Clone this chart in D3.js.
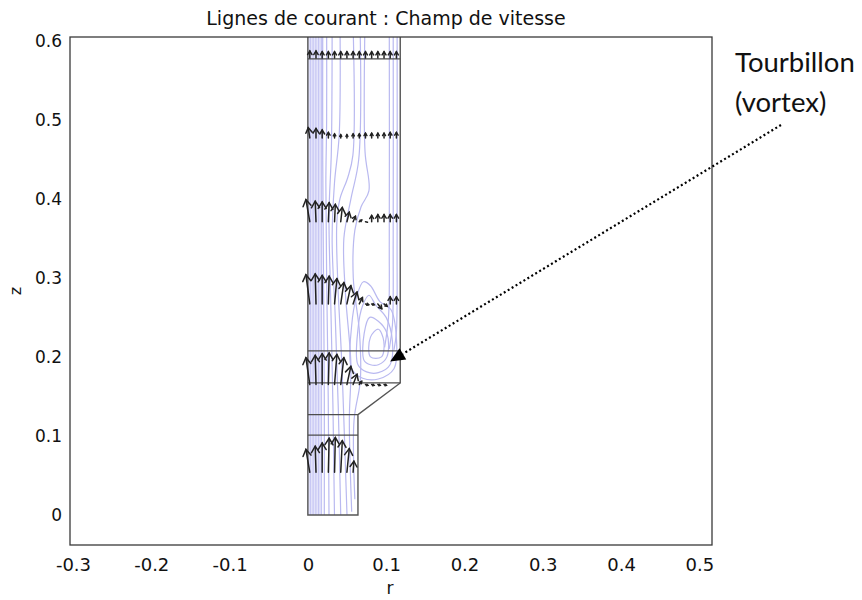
<!DOCTYPE html>
<html>
<head>
<meta charset="utf-8">
<script src="https://cdn.jsdelivr.net/npm/d3@7"></script>
<style>
  body { margin: 0; background: #fff; }
  svg { display: block; }
</style>
</head>
<body>
<svg id="chart" width="862" height="600"></svg>
<script>
// ---- axis ticks ----
const rTicks = [-0.3, -0.2, -0.1, 0, 0.1, 0.2, 0.3, 0.4, 0.5];
const rTickLabels = ["-0.3", "-0.2", "-0.1", "0", "0.1", "0.2", "0.3", "0.4", "0.5"];
const zTicks = [0, 0.1, 0.2, 0.3, 0.4, 0.5, 0.6];
const zTickLabels = ["0", "0.1", "0.2", "0.3", "0.4", "0.5", "0.6"];

// ---- geometry (r, z) of the axisymmetric tube ----
const wallOutline = [[0, 0.63], [0, 0], [0.064, 0], [0.064, 0.127], [0.118, 0.167], [0.118, 0.63]];
const interfaceLines = [
  [[0, 0.577], [0.118, 0.577]],
  [[0, 0.2075], [0.118, 0.2075]],
  [[0, 0.167], [0.118, 0.167]],
  [[0, 0.127], [0.064, 0.127]],
  [[0, 0.101], [0.064, 0.101]]
];

// ---- streamlines ----
const coreStreamR = [0.0015, 0.0035, 0.0055, 0.0075, 0.0095, 0.0115, 0.0135, 0.0155, 0.0175];
const jetStreamlines = [
  [[0.021, 0], [0.021, 0.15], [0.020, 0.30], [0.019, 0.45], [0.019, 0.63]],
  [[0.027, 0], [0.026, 0.15], [0.024, 0.30], [0.023, 0.42], [0.024, 0.50], [0.024, 0.63]],
  [[0.034, 0], [0.032, 0.14], [0.029, 0.28], [0.027, 0.38], [0.030, 0.46], [0.031, 0.63]],
  [[0.042, 0], [0.039, 0.13], [0.035, 0.25], [0.031, 0.35], [0.034, 0.42], [0.040, 0.48], [0.041, 0.63]],
  [[0.050, 0], [0.046, 0.12], [0.043, 0.20], [0.038, 0.30], [0.037, 0.37], [0.041, 0.40], [0.051, 0.427], [0.0575, 0.455], [0.0575, 0.63]],
  [[0.056, 0.004], [0.053, 0.12], [0.055, 0.19], [0.048, 0.28], [0.046, 0.35], [0.055, 0.40], [0.065, 0.45], [0.0665, 0.63]],
  [[0.060, 0.02], [0.059, 0.12], [0.067, 0.17], [0.066, 0.23], [0.058, 0.30], [0.060, 0.36], [0.068, 0.39], [0.078, 0.41], [0.073, 0.46], [0.073, 0.63]]
];
const wallStreamlines = [
  [[0.098, 0.212], [0.103, 0.25], [0.104, 0.35], [0.104, 0.63]],
  [[0.104, 0.210], [0.108, 0.24], [0.109, 0.35], [0.109, 0.63]],
  [[0.110, 0.209], [0.113, 0.23], [0.114, 0.35], [0.114, 0.63]]
];
const vortexLoops = [
  [[0.056, 0.185], [0.056, 0.24], [0.062, 0.275], [0.071, 0.295], [0.080, 0.29], [0.092, 0.27], [0.106, 0.26], [0.113, 0.225], [0.110, 0.185], [0.090, 0.172], [0.070, 0.173]],
  [[0.064, 0.19], [0.064, 0.235], [0.070, 0.265], [0.078, 0.278], [0.087, 0.265], [0.100, 0.25], [0.108, 0.22], [0.105, 0.19], [0.090, 0.18], [0.075, 0.181]],
  [[0.072, 0.195], [0.072, 0.23], [0.079, 0.25], [0.090, 0.245], [0.101, 0.23], [0.101, 0.20], [0.090, 0.19], [0.080, 0.19]],
  [[0.080, 0.20], [0.080, 0.225], [0.090, 0.235], [0.097, 0.22], [0.094, 0.20]]
];

// ---- velocity arrows: radial grid, six sampling heights ----
const arrowR = [0.0025, 0.0104, 0.0183, 0.0262, 0.0341, 0.0420, 0.0499, 0.0578,
                0.0657, 0.0736, 0.0815, 0.0894, 0.0973, 0.1052, 0.1131];
const arrowZ = [0.054, 0.165, 0.267, 0.371, 0.477, 0.578];
// axial (w) and radial (u) velocity per row, mm/s
const w1 = [29, 33, 37, 43, 44, 40, 30, 14];
const u1 = [-5, -1, 0, 1, 1, 2, 3, 1];
const w2 = [34, 37, 39, 40, 38, 34, 23, 13, 4, -1, -1, -1, -1];
const u2 = [-5, -1, 0, 1, 3, 4, 5, 5, 3, 3, 3, 3, 3];
const w3 = [37, 38, 36, 35, 32, 27, 23, 15, 8, -1, -1, -6, -3, 9, 9];
const u3 = [-5, -1, 0, 1, 3, 4, 5, 5, 4, 4, 3, 5, 4, 0, 0];
const w4 = [28, 26, 25, 24, 22, 18, 12, 7, 2, 1, 8, 9, 9, 9, 9];
const u4 = [-5, -1, 0, 1, 1, 2, 3, 3, 3, 2, 0, 0, 0, 0, 0];
const w5 = [13, 12, 10, 7, 5, 4, 4, 5, 5, 6, 6, 6, 6, 7, 7];
const u5 = [-2, 0, 0, 0, 0, 0, 0, 0, 0, 0, 0, 0, 0, 0, 0];
const w6 = [9, 9, 8, 8, 8, 8, 8, 8, 8, 8, 8, 8, 8, 8, 8];
const u6 = [0, 0, 0, 0, 0, 0, 0, 0, 0, 0, 0, 0, 0, 0, 0];
const rowsW = [w1, w2, w3, w4, w5, w6];
const rowsU = [u1, u2, u3, u4, u5, u6];
const arrowScale = 0.001; // data units per mm/s

// ---- annotation ----
const noteLines = ["Tourbillon", "(vortex)"];
const vortexTip = [0.105, 0.194];

// ---- layout ----
const svg = d3.select("#chart");
const frame = { left: 70, right: 712, top: 37, bottom: 545 };
const x = d3.scaleLinear().domain([-0.3038, 0.5162]).range([frame.left, frame.right]);
const y = d3.scaleLinear().domain([-0.038, 0.6047]).range([frame.bottom, frame.top]);

svg.append("rect").attr("width", 862).attr("height", 600).attr("fill", "#fff");

svg.append("defs").append("clipPath").attr("id", "plotClip")
  .append("rect")
  .attr("x", frame.left).attr("y", frame.top)
  .attr("width", frame.right - frame.left).attr("height", frame.bottom - frame.top);

const plot = svg.append("g").attr("clip-path", "url(#plotClip)");
const line = d3.line().x(d => x(d[0])).y(d => y(d[1]));
const smooth = d3.line().x(d => x(d[0])).y(d => y(d[1])).curve(d3.curveCatmullRom);
const closed = d3.line().x(d => x(d[0])).y(d => y(d[1])).curve(d3.curveCatmullRomClosed);

const streams = plot.append("g").attr("fill", "none").attr("stroke", "#b9b9f0").attr("stroke-width", 1.2);
streams.selectAll("path.core").data(coreStreamR).join("path")
  .attr("class", "core")
  .attr("stroke", "#c6c6f4").attr("stroke-width", 1.1)
  .attr("d", r => line([[r, 0], [r, 0.63]]));
streams.selectAll("path.jet").data(jetStreamlines).join("path")
  .attr("class", "jet").attr("d", smooth);
streams.selectAll("path.wall").data(wallStreamlines).join("path")
  .attr("class", "wall").attr("d", smooth);
streams.selectAll("path.loop").data(vortexLoops).join("path")
  .attr("class", "loop").attr("d", closed);

// tube walls and sub-domain boundaries
plot.append("path").attr("d", line(wallOutline))
  .attr("fill", "none").attr("stroke", "#555").attr("stroke-width", 1.4);
plot.selectAll("path.iface").data(interfaceLines).join("path")
  .attr("class", "iface").attr("d", line)
  .attr("fill", "none").attr("stroke", "#4d4d4d").attr("stroke-width", 1.3);

// velocity arrows
const arrows = plot.append("g").attr("stroke", "#222").attr("stroke-width", 1.5)
  .attr("fill", "none").attr("stroke-linecap", "round");
rowsW.forEach((ws, k) => {
  const z = arrowZ[k];
  ws.forEach((w, i) => {
    const r = arrowR[i];
    const u = rowsU[k][i];
    const x0 = x(r), y0 = y(z);
    const x1 = x(r + u * arrowScale), y1 = y(z + w * arrowScale);
    const dx = x1 - x0, dy = y1 - y0;
    const len = Math.hypot(dx, dy);
    if (len < 2) {
      arrows.append("line").attr("x1", x0).attr("y1", y0)
        .attr("x2", x0 + 2).attr("y2", y0 + 0.5);
      return;
    }
    const ux = dx / len, uy = dy / len;
    const h = Math.min(6.5, len * 0.5);
    const hw = h * 0.62;
    const bx = x1 - ux * h, by = y1 - uy * h;
    arrows.append("line").attr("x1", x0).attr("y1", y0).attr("x2", x1).attr("y2", y1);
    arrows.append("path")
      .attr("d", `M${bx - uy * hw},${by + ux * hw}L${x1},${y1}L${bx + uy * hw},${by - ux * hw}`)
      .attr("stroke-linejoin", "miter");
  });
});

// frame
svg.append("rect")
  .attr("x", frame.left).attr("y", frame.top)
  .attr("width", frame.right - frame.left).attr("height", frame.bottom - frame.top)
  .attr("fill", "none").attr("stroke", "#3a3a3a").attr("stroke-width", 1.3);

// axes (labels only)
const xAxis = d3.axisBottom(x).tickValues(rTicks).tickSize(0).tickPadding(13)
  .tickFormat((d, i) => rTickLabels[i]);
const gx = svg.append("g").attr("transform", `translate(0,${frame.bottom})`).call(xAxis);
gx.select(".domain").remove();
gx.selectAll("text").attr("font-family", "DejaVu Sans").attr("font-size", 18).attr("fill", "#111");

const yAxis = d3.axisLeft(y).tickValues(zTicks).tickSize(0).tickPadding(8)
  .tickFormat((d, i) => zTickLabels[i]);
const gy = svg.append("g").attr("transform", `translate(${frame.left},0)`).call(yAxis);
gy.select(".domain").remove();
gy.selectAll("text").attr("font-family", "DejaVu Sans").attr("font-size", 17).attr("fill", "#111");

// titles
svg.append("text").attr("x", 386).attr("y", 25).attr("text-anchor", "middle")
  .attr("font-family", "DejaVu Sans").attr("font-size", 19).attr("fill", "#111")
  .text("Lignes de courant : Champ de vitesse");
svg.append("text").attr("x", 390).attr("y", 594).attr("text-anchor", "middle")
  .attr("font-family", "DejaVu Sans").attr("font-size", 17).attr("fill", "#111")
  .text("r");
svg.append("text").attr("transform", "translate(21,291) rotate(-90)").attr("text-anchor", "middle")
  .attr("font-family", "DejaVu Sans").attr("font-size", 16).attr("fill", "#111")
  .text("z");

// vortex annotation
const tail = [781, 125];
const tip = [x(vortexTip[0]), y(vortexTip[1])];
const vx = tip[0] - tail[0], vy = tip[1] - tail[1];
const vl = Math.hypot(vx, vy);
const ex = vx / vl, ey = vy / vl;
const headLen = 15, headHalf = 6.5;
const hbx = tip[0] - ex * headLen, hby = tip[1] - ey * headLen;
svg.append("line")
  .attr("x1", tail[0]).attr("y1", tail[1]).attr("x2", hbx).attr("y2", hby)
  .attr("stroke", "#000").attr("stroke-width", 2.2).attr("stroke-dasharray", "2,2.6");
svg.append("path")
  .attr("d", `M${tip[0]},${tip[1]}L${hbx - ey * headHalf},${hby + ex * headHalf}L${hbx + ey * headHalf},${hby - ex * headHalf}Z`)
  .attr("fill", "#000");
svg.selectAll("text.note").data(noteLines).join("text")
  .attr("class", "note")
  .attr("x", 735).attr("y", (d, i) => 72 + i * 40)
  .attr("font-family", "Lato, 'Open Sans', sans-serif").attr("font-size", 27.5).attr("fill", "#111")
  .text(d => d);
</script>
</body>
</html>
